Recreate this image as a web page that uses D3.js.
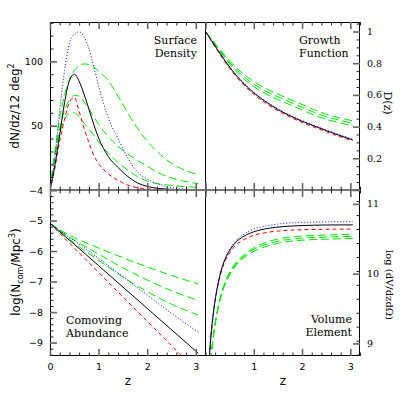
<!DOCTYPE html>
<html>
<head>
<meta charset="utf-8">
<script src="https://cdn.jsdelivr.net/npm/d3@7"></script>
<style>
  body { margin: 0; background: #fff; }
  svg { display: block; }
</style>
</head>
<body>
<svg width="407" height="407"></svg>
<script>
// ---- values ----
// surface density dN/dz per 12 deg^2
const zSurf = [0, 0.1, 0.2, 0.3, 0.4, 0.5, 0.6, 0.7, 0.8, 0.9, 1.0, 1.2, 1.4, 1.6, 1.8, 2.0, 2.2, 2.4, 2.6, 2.8, 3.05];
const surfBlack = [0, 19, 43, 68, 85, 90, 84.5, 74.5, 63, 51, 40.5, 26, 17.5, 10.5, 5.5, 2.8, 1.4, 0.7, 0.35, 0.2, 0.1];
const surfBlue = [0, 24, 62, 93, 114, 121, 123, 119, 110, 96, 81, 56, 40, 25, 14, 8.5, 5, 2.7, 1.3, 0.6, 0.3];
const surfRed = [0, 17, 38, 55, 68, 72, 61, 48, 37, 27, 20.5, 12.5, 7.5, 3.8, 1.8, 0.9, 0.4, 0.2, 0.1, 0.05, 0.02];
const surfGreen1 = [0, 30, 56, 74, 86, 93, 96.5, 98, 97.5, 95.5, 92.5, 85, 73, 60, 48, 38, 30, 23.5, 18.5, 15, 12];
const surfGreen2 = [0, 27, 48, 62, 70, 73.5, 73, 68.5, 63, 57, 51, 41.5, 34, 28, 23, 18.5, 14, 10.5, 8.3, 6.5, 5];
const surfGreen3 = [0, 26, 44, 55, 59.5, 60, 57, 52, 47.5, 42.5, 37.5, 28.5, 21.5, 15.5, 10.5, 7, 5, 4, 3.2, 2.6, 2];

// growth function D(z)
const zGrow = [0, 0.25, 0.5, 0.75, 1.0, 1.25, 1.5, 1.75, 2.0, 2.25, 2.5, 2.75, 3.05];
const growBlack = [1, 0.885, 0.775, 0.685, 0.613, 0.556, 0.508, 0.468, 0.434, 0.404, 0.375, 0.347, 0.316];
const growBlue = [1, 0.887, 0.778, 0.689, 0.617, 0.56, 0.512, 0.472, 0.438, 0.408, 0.379, 0.351, 0.32];
const growRed = [1, 0.878, 0.766, 0.676, 0.604, 0.547, 0.5, 0.46, 0.426, 0.396, 0.368, 0.34, 0.31];
const growGreen1 = [1, 0.905, 0.815, 0.74, 0.685, 0.64, 0.605, 0.572, 0.54, 0.507, 0.478, 0.457, 0.437];
const growGreen2 = [1, 0.9, 0.805, 0.726, 0.668, 0.623, 0.588, 0.555, 0.522, 0.49, 0.462, 0.442, 0.421];
const growGreen3 = [1, 0.895, 0.795, 0.712, 0.652, 0.607, 0.571, 0.538, 0.505, 0.473, 0.446, 0.426, 0.405];

// comoving abundance log(N_com / Mpc^3)
const zAbund = [0, 0.25, 0.5, 1.0, 1.5, 2.0, 2.5, 3.05];
const abundBlack = [-5.09, -5.44, -5.78, -6.48, -7.18, -7.88, -8.58, -9.35];
const abundBlue = [-5.09, -5.39, -5.66, -6.24, -6.84, -7.44, -8.04, -8.66];
const abundRed = [-5.09, -5.5, -5.9, -6.7, -7.5, -8.3, -9.1, -9.98];
const abundGreen1 = [-5.09, -5.35, -5.56, -5.9, -6.22, -6.52, -6.8, -7.08];
const abundGreen2 = [-5.09, -5.38, -5.64, -6.1, -6.55, -6.95, -7.3, -7.62];
const abundGreen3 = [-5.09, -5.41, -5.74, -6.3, -6.85, -7.33, -7.74, -8.1];

// volume element log(dV/dz dOmega)
const zVol = [0.07, 0.1, 0.15, 0.2, 0.3, 0.4, 0.5, 0.6, 0.8, 1.0, 1.3, 1.6, 2.0, 2.5, 3.05];
const volBlack = [8.7, 9.0, 9.36, 9.62, 9.98, 10.2, 10.33, 10.43, 10.54, 10.6, 10.65, 10.675, 10.69, 10.698, 10.7];
const volBlue = [8.7, 9.0, 9.36, 9.63, 9.99, 10.21, 10.35, 10.45, 10.57, 10.64, 10.69, 10.72, 10.735, 10.743, 10.745];
const volRed = [8.7, 9.0, 9.35, 9.61, 9.96, 10.17, 10.3, 10.39, 10.49, 10.55, 10.595, 10.618, 10.63, 10.637, 10.64];
const volGreen1 = [8.4, 8.7, 9.04, 9.29, 9.64, 9.87, 10.02, 10.13, 10.27, 10.37, 10.46, 10.51, 10.54, 10.555, 10.565];
const volGreen2 = [8.4, 8.69, 9.03, 9.28, 9.63, 9.85, 10.0, 10.11, 10.25, 10.35, 10.43, 10.48, 10.51, 10.525, 10.535];
const volGreen3 = [8.4, 8.68, 9.02, 9.27, 9.62, 9.84, 9.98, 10.09, 10.23, 10.32, 10.4, 10.45, 10.48, 10.495, 10.505];

// tick labels
const zTicks = [0, 1, 2, 3];
const surfTicks = [0, 50, 100];
const growTicks = [0, 0.2, 0.4, 0.6, 0.8, 1];
const abundTicks = [-9, -8, -7, -6, -5, -4];
const volTicks = [9, 10, 11];

// ---- drawing ----
const svg = d3.select("svg");

const padL = 50, padMidX = 205.5, padR = 360;
const padT = 22, padMidY = 190, padB = 356;

const xL = d3.scaleLinear().domain([0, 3.2]).range([padL, padMidX]);
const xR = d3.scaleLinear().domain([0, 3.2]).range([padMidX, padR]);
const ySurf = d3.scaleLinear().domain([0, 130.6]).range([padMidY, padT]);
const yGrow = d3.scaleLinear().domain([0, 1.06]).range([padMidY, padT]);
const yAbund = d3.scaleLinear().domain([-9.44, -4]).range([padB, padMidY]);
const yVol = d3.scaleLinear().domain([8.82, 11.2]).range([padB, padMidY]);

const styles = {
  black: { color: "#000", dash: null },
  blue: { color: "#0000ff", dash: "1,2" },
  red: { color: "#ff0000", dash: "4,3" },
  green: { color: "#00e600", dash: "8,4" }
};

function minorOf(lo, hi, step, majors) {
  return d3.range(lo, hi + 1e-9, step).filter(v => !majors.some(m => Math.abs(m - v) < 1e-6));
}

let clipId = 0;
function drawCurves(x, y, zs, series) {
  const id = "clip" + clipId++;
  svg.append("clipPath").attr("id", id)
    .append("rect")
    .attr("x", x.range()[0]).attr("y", y.range()[1])
    .attr("width", x.range()[1] - x.range()[0])
    .attr("height", y.range()[0] - y.range()[1]);

  const line = d3.line()
    .x(d => x(d[0]))
    .y(d => y(d[1]))
    .curve(d3.curveMonotoneX);

  const g = svg.append("g").attr("clip-path", `url(#${id})`);
  series.forEach(s => {
    g.append("path")
      .datum(zs.map((z, i) => [z, s.values[i]]))
      .attr("d", line)
      .attr("fill", "none")
      .attr("stroke", styles[s.style].color)
      .attr("stroke-width", 1)
      .attr("stroke-dasharray", styles[s.style].dash);
  });
}

// one side of a panel: major + minor ticks pointing inwards
function side(axisFn, scale, majors, minors, tx, ty, fmt, font) {
  const g = svg.append("g").attr("transform", `translate(${tx},${ty})`);
  g.append("g")
    .call(axisFn(scale).tickValues(minors).tickSize(-3.5).tickFormat(""))
    .call(a => a.select(".domain").remove())
    .call(a => a.selectAll("line").attr("stroke", "#222"));
  const maj = g.append("g")
    .call(axisFn(scale).tickValues(majors).tickSize(-7).tickPadding(7).tickFormat(fmt || (() => "")))
    .call(a => a.select(".domain").remove())
    .call(a => a.selectAll("line").attr("stroke", "#666").attr("stroke-width", 1.6));
  maj.selectAll("text")
    .attr("fill", "#000")
    .style("font-family", font || "'DejaVu Sans', sans-serif")
    .style("font-size", "9.5px");
  return maj;
}

const zMinor = minorOf(0, 3.2, 0.2, zTicks);
const fmtNum = d3.format("d");

// curves (greens under the rest)
drawCurves(xL, ySurf, zSurf, [
  { values: surfGreen1, style: "green" }, { values: surfGreen2, style: "green" }, { values: surfGreen3, style: "green" },
  { values: surfRed, style: "red" }, { values: surfBlack, style: "black" }, { values: surfBlue, style: "blue" }
]);
drawCurves(xR, yGrow, zGrow, [
  { values: growGreen1, style: "green" }, { values: growGreen2, style: "green" }, { values: growGreen3, style: "green" },
  { values: growRed, style: "red" }, { values: growBlack, style: "black" }, { values: growBlue, style: "blue" }
]);
drawCurves(xL, yAbund, zAbund, [
  { values: abundGreen1, style: "green" }, { values: abundGreen2, style: "green" }, { values: abundGreen3, style: "green" },
  { values: abundRed, style: "red" }, { values: abundBlack, style: "black" }, { values: abundBlue, style: "blue" }
]);
drawCurves(xR, yVol, zVol, [
  { values: volGreen1, style: "green" }, { values: volGreen2, style: "green" }, { values: volGreen3, style: "green" },
  { values: volRed, style: "red" }, { values: volBlack, style: "black" }, { values: volBlue, style: "blue" }
]);

// frame
svg.append("rect")
  .attr("x", padL + 0.5).attr("y", padT + 0.5)
  .attr("width", padR - padL - 1).attr("height", padB - padT - 1)
  .attr("fill", "none").attr("stroke", "#000");
svg.append("line")
  .attr("x1", padMidX).attr("x2", padMidX).attr("y1", padT).attr("y2", padB)
  .attr("stroke", "#000");
svg.append("line")
  .attr("x1", padL).attr("x2", padR).attr("y1", padMidY).attr("y2", padMidY)
  .attr("stroke", "#777").attr("stroke-width", 2);

// x ticks
side(d3.axisTop, xL, zTicks, zMinor, 0, padT);
side(d3.axisTop, xR, zTicks, zMinor, 0, padT);
side(d3.axisBottom, xL, zTicks, zMinor, 0, padMidY);
side(d3.axisBottom, xR, zTicks, zMinor, 0, padMidY);
side(d3.axisTop, xL, zTicks, zMinor, 0, padMidY);
side(d3.axisTop, xR, zTicks, zMinor, 0, padMidY);
side(d3.axisBottom, xL, zTicks, zMinor, 0, padB, fmtNum);
side(d3.axisBottom, xR, zTicks.slice(1), zMinor, 0, padB, fmtNum);

// y ticks
side(d3.axisLeft, ySurf, surfTicks, minorOf(0, 130, 10, surfTicks), padL, 0, d => d === 0 ? "" : fmtNum(d));
side(d3.axisRight, yGrow, growTicks, minorOf(0, 1.05, 0.05, growTicks), padR, 0,
  d => d === 0 ? "" : (d === 1 ? "1" : d3.format(".1f")(d)), "'DejaVu Serif', serif");
side(d3.axisLeft, yAbund, abundTicks, minorOf(-9.4, -4, 0.2, abundTicks), padL, 0, fmtNum);
side(d3.axisRight, yVol, volTicks, minorOf(8.84, 11.2, 0.2, volTicks), padR, 0, fmtNum, "'DejaVu Serif', serif");

// panel titles
const titleFont = "'DejaVu Serif', serif";
function title(lines, x, y, anchor) {
  lines.forEach((t, i) => {
    svg.append("text")
      .attr("x", x).attr("y", y + i * 13)
      .attr("text-anchor", anchor)
      .style("font-family", titleFont)
      .style("font-size", "11px")
      .text(t);
  });
}
title(["Surface", "Density"], 197, 43.5, "end");
title(["Growth", "Function"], 299, 43.5, "start");
title(["Comoving", "Abundance"], 66, 324, "start");
title(["Volume", "Element"], 352, 322.5, "end");

// axis titles
const t1 = svg.append("text")
  .attr("transform", "translate(19,106) rotate(-90)")
  .attr("text-anchor", "middle")
  .style("font-family", "'DejaVu Sans', sans-serif").style("font-size", "12px");
t1.append("tspan").text("dN/dz/12 deg");
t1.append("tspan").attr("dy", -5).style("font-size", "8px").text("2");

const t2 = svg.append("text")
  .attr("transform", "translate(20,272) rotate(-90)")
  .attr("text-anchor", "middle")
  .style("font-family", "'DejaVu Sans', sans-serif").style("font-size", "12px");
t2.append("tspan").text("log(N");
t2.append("tspan").attr("dy", 3).style("font-size", "8px").text("com");
t2.append("tspan").attr("dy", -3).text("/Mpc");
t2.append("tspan").attr("dy", -5).style("font-size", "8px").text("3");
t2.append("tspan").attr("dy", 5).text(")");

svg.append("text")
  .attr("transform", "translate(384,103) rotate(90)")
  .attr("text-anchor", "middle")
  .style("font-family", "'DejaVu Serif', serif").style("font-size", "11px")
  .text("D(z)");
svg.append("text")
  .attr("transform", "translate(386,285) rotate(90)")
  .attr("text-anchor", "middle")
  .style("font-family", "'DejaVu Serif', serif").style("font-size", "10px")
  .text("log (dV/dzdΩ)");

[128, 283].forEach(cx => {
  svg.append("text")
    .attr("x", cx).attr("y", 385)
    .attr("text-anchor", "middle")
    .style("font-family", "'DejaVu Sans', sans-serif").style("font-size", "12px")
    .text("z");
});
</script>
</body>
</html>
